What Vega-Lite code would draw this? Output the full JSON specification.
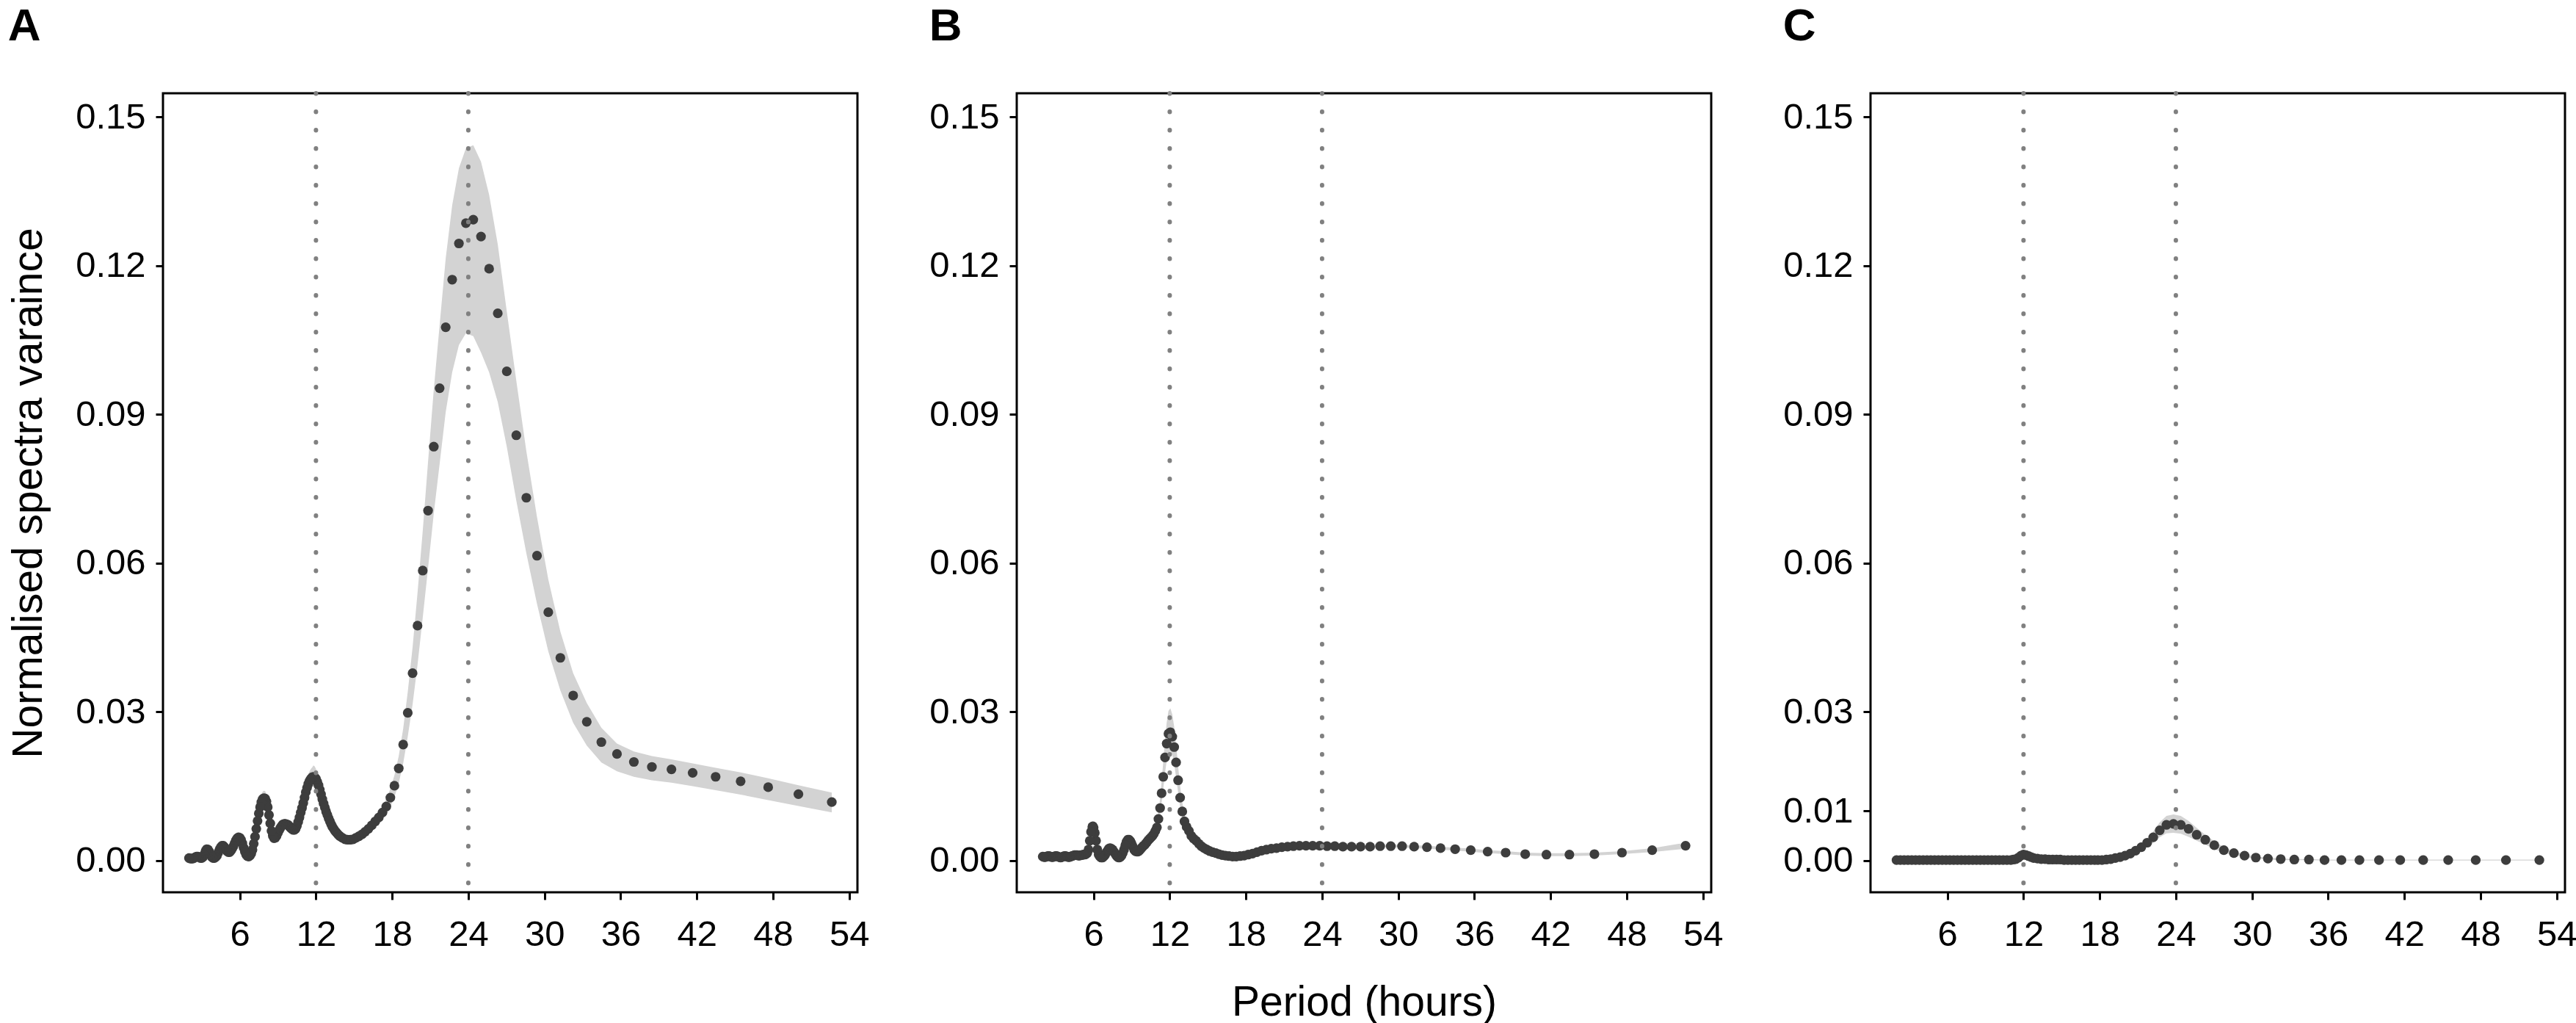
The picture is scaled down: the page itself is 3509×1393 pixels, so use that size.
{
  "$schema": "https://vega.github.io/schema/vega-lite/v6.json",
  "background": "white",
  "padding": {"left": 9, "top": 3, "right": 0, "bottom": 0},
  "bounds": "flush",
  "spacing": 217,
  "datasets": {
    "guides": [{"period": 12}, {"period": 24}],
    "spectra": [
      {"panel": "A", "period": 52.63, "value": 0.0118, "lower": 0.0097, "upper": 0.0137},
      {"panel": "A", "period": 50.00, "value": 0.0134, "lower": 0.0110, "upper": 0.0152},
      {"panel": "A", "period": 47.62, "value": 0.0148, "lower": 0.0122, "upper": 0.0166},
      {"panel": "A", "period": 45.45, "value": 0.0160, "lower": 0.0133, "upper": 0.0178},
      {"panel": "A", "period": 43.48, "value": 0.0169, "lower": 0.0142, "upper": 0.0187},
      {"panel": "A", "period": 41.67, "value": 0.0177, "lower": 0.0150, "upper": 0.0196},
      {"panel": "A", "period": 40.00, "value": 0.0184, "lower": 0.0157, "upper": 0.0204},
      {"panel": "A", "period": 38.46, "value": 0.0189, "lower": 0.0162, "upper": 0.0211},
      {"panel": "A", "period": 37.04, "value": 0.0199, "lower": 0.0169, "upper": 0.0220},
      {"panel": "A", "period": 35.71, "value": 0.0215, "lower": 0.0180, "upper": 0.0236},
      {"panel": "A", "period": 34.48, "value": 0.0239, "lower": 0.0198, "upper": 0.0268},
      {"panel": "A", "period": 33.33, "value": 0.0280, "lower": 0.0232, "upper": 0.0318},
      {"panel": "A", "period": 32.26, "value": 0.0333, "lower": 0.0278, "upper": 0.0378},
      {"panel": "A", "period": 31.25, "value": 0.0409, "lower": 0.0343, "upper": 0.0462},
      {"panel": "A", "period": 30.30, "value": 0.0501, "lower": 0.0422, "upper": 0.0567},
      {"panel": "A", "period": 29.41, "value": 0.0615, "lower": 0.0518, "upper": 0.0693},
      {"panel": "A", "period": 28.57, "value": 0.0732, "lower": 0.0620, "upper": 0.0826},
      {"panel": "A", "period": 27.78, "value": 0.0858, "lower": 0.0726, "upper": 0.0968},
      {"panel": "A", "period": 27.03, "value": 0.0987, "lower": 0.0835, "upper": 0.1108},
      {"panel": "A", "period": 26.32, "value": 0.1104, "lower": 0.0925, "upper": 0.1243},
      {"panel": "A", "period": 25.64, "value": 0.1194, "lower": 0.0985, "upper": 0.1343},
      {"panel": "A", "period": 25.00, "value": 0.1259, "lower": 0.1025, "upper": 0.1410},
      {"panel": "A", "period": 24.39, "value": 0.1293, "lower": 0.1058, "upper": 0.1443},
      {"panel": "A", "period": 23.81, "value": 0.1286, "lower": 0.1064, "upper": 0.1437},
      {"panel": "A", "period": 23.26, "value": 0.1245, "lower": 0.1040, "upper": 0.1397},
      {"panel": "A", "period": 22.73, "value": 0.1172, "lower": 0.0985, "upper": 0.1322},
      {"panel": "A", "period": 22.22, "value": 0.1076, "lower": 0.0905, "upper": 0.1215},
      {"panel": "A", "period": 21.74, "value": 0.0953, "lower": 0.0800, "upper": 0.1080},
      {"panel": "A", "period": 21.28, "value": 0.0835, "lower": 0.0700, "upper": 0.0950},
      {"panel": "A", "period": 20.83, "value": 0.0706, "lower": 0.0590, "upper": 0.0805},
      {"panel": "A", "period": 20.41, "value": 0.0585, "lower": 0.0490, "upper": 0.0665},
      {"panel": "A", "period": 20.00, "value": 0.0474, "lower": 0.0395, "upper": 0.0540},
      {"panel": "A", "period": 19.61, "value": 0.0378, "lower": 0.0315, "upper": 0.0430},
      {"panel": "A", "period": 19.23, "value": 0.0298, "lower": 0.0250, "upper": 0.0340},
      {"panel": "A", "period": 18.87, "value": 0.0234, "lower": 0.0196, "upper": 0.0266},
      {"panel": "A", "period": 18.52, "value": 0.0186, "lower": 0.0156, "upper": 0.0211},
      {"panel": "A", "period": 18.18, "value": 0.0151, "lower": 0.0128, "upper": 0.0172},
      {"panel": "A", "period": 17.86, "value": 0.0127, "lower": 0.0108, "upper": 0.0145},
      {"panel": "A", "period": 17.54, "value": 0.0109, "lower": 0.0093, "upper": 0.0124},
      {"panel": "A", "period": 17.24, "value": 0.0097, "lower": 0.0083, "upper": 0.0110},
      {"panel": "A", "period": 16.95, "value": 0.0087, "lower": 0.0075, "upper": 0.0099},
      {"panel": "A", "period": 16.67, "value": 0.0079, "lower": 0.0068, "upper": 0.0090},
      {"panel": "A", "period": 16.39, "value": 0.0071, "lower": 0.0061, "upper": 0.0081},
      {"panel": "A", "period": 16.13, "value": 0.0064, "lower": 0.0055, "upper": 0.0073},
      {"panel": "A", "period": 15.87, "value": 0.0058, "lower": 0.0050, "upper": 0.0066},
      {"panel": "A", "period": 15.63, "value": 0.0053, "lower": 0.0045, "upper": 0.0061},
      {"panel": "A", "period": 15.38, "value": 0.0049, "lower": 0.0042, "upper": 0.0056},
      {"panel": "A", "period": 15.15, "value": 0.0046, "lower": 0.0039, "upper": 0.0053},
      {"panel": "A", "period": 14.93, "value": 0.0043, "lower": 0.0037, "upper": 0.0049},
      {"panel": "A", "period": 14.71, "value": 0.0042, "lower": 0.0036, "upper": 0.0048},
      {"panel": "A", "period": 14.49, "value": 0.0042, "lower": 0.0036, "upper": 0.0048},
      {"panel": "A", "period": 14.29, "value": 0.0043, "lower": 0.0037, "upper": 0.0049},
      {"panel": "A", "period": 14.08, "value": 0.0046, "lower": 0.0039, "upper": 0.0053},
      {"panel": "A", "period": 13.9, "value": 0.0049, "lower": 0.0043, "upper": 0.0055},
      {"panel": "A", "period": 13.8, "value": 0.0051, "lower": 0.0045, "upper": 0.0057},
      {"panel": "A", "period": 13.7, "value": 0.0054, "lower": 0.0048, "upper": 0.0060},
      {"panel": "A", "period": 13.6, "value": 0.0057, "lower": 0.0050, "upper": 0.0064},
      {"panel": "A", "period": 13.5, "value": 0.0060, "lower": 0.0053, "upper": 0.0067},
      {"panel": "A", "period": 13.4, "value": 0.0064, "lower": 0.0056, "upper": 0.0072},
      {"panel": "A", "period": 13.3, "value": 0.0068, "lower": 0.0060, "upper": 0.0076},
      {"panel": "A", "period": 13.2, "value": 0.0073, "lower": 0.0064, "upper": 0.0082},
      {"panel": "A", "period": 13.1, "value": 0.0079, "lower": 0.0070, "upper": 0.0088},
      {"panel": "A", "period": 13.0, "value": 0.0085, "lower": 0.0075, "upper": 0.0095},
      {"panel": "A", "period": 12.9, "value": 0.0092, "lower": 0.0081, "upper": 0.0103},
      {"panel": "A", "period": 12.8, "value": 0.0099, "lower": 0.0087, "upper": 0.0111},
      {"panel": "A", "period": 12.7, "value": 0.0107, "lower": 0.0094, "upper": 0.0120},
      {"panel": "A", "period": 12.6, "value": 0.0115, "lower": 0.0101, "upper": 0.0129},
      {"panel": "A", "period": 12.5, "value": 0.0124, "lower": 0.0109, "upper": 0.0139},
      {"panel": "A", "period": 12.4, "value": 0.0134, "lower": 0.0118, "upper": 0.0150},
      {"panel": "A", "period": 12.3, "value": 0.0143, "lower": 0.0126, "upper": 0.0160},
      {"panel": "A", "period": 12.2, "value": 0.0152, "lower": 0.0134, "upper": 0.0170},
      {"panel": "A", "period": 12.1, "value": 0.0159, "lower": 0.0140, "upper": 0.0178},
      {"panel": "A", "period": 12.0, "value": 0.0165, "lower": 0.0145, "upper": 0.0185},
      {"panel": "A", "period": 11.9, "value": 0.0168, "lower": 0.0148, "upper": 0.0190},
      {"panel": "A", "period": 11.8, "value": 0.0169, "lower": 0.0149, "upper": 0.0192},
      {"panel": "A", "period": 11.7, "value": 0.0168, "lower": 0.0148, "upper": 0.0188},
      {"panel": "A", "period": 11.6, "value": 0.0165, "lower": 0.0145, "upper": 0.0185},
      {"panel": "A", "period": 11.5, "value": 0.0161, "lower": 0.0142, "upper": 0.0180},
      {"panel": "A", "period": 11.4, "value": 0.0155, "lower": 0.0136, "upper": 0.0174},
      {"panel": "A", "period": 11.3, "value": 0.0147, "lower": 0.0129, "upper": 0.0165},
      {"panel": "A", "period": 11.2, "value": 0.0138, "lower": 0.0121, "upper": 0.0155},
      {"panel": "A", "period": 11.1, "value": 0.0127, "lower": 0.0112, "upper": 0.0142},
      {"panel": "A", "period": 11.0, "value": 0.0116, "lower": 0.0102, "upper": 0.0130},
      {"panel": "A", "period": 10.9, "value": 0.0106, "lower": 0.0093, "upper": 0.0119},
      {"panel": "A", "period": 10.8, "value": 0.0097, "lower": 0.0085, "upper": 0.0109},
      {"panel": "A", "period": 10.7, "value": 0.0087, "lower": 0.0077, "upper": 0.0097},
      {"panel": "A", "period": 10.6, "value": 0.0078, "lower": 0.0069, "upper": 0.0087},
      {"panel": "A", "period": 10.5, "value": 0.0070, "lower": 0.0062, "upper": 0.0078},
      {"panel": "A", "period": 10.4, "value": 0.0064, "lower": 0.0056, "upper": 0.0072},
      {"panel": "A", "period": 10.3, "value": 0.0062, "lower": 0.0055, "upper": 0.0069},
      {"panel": "A", "period": 10.2, "value": 0.0062, "lower": 0.0055, "upper": 0.0069},
      {"panel": "A", "period": 10.1, "value": 0.0064, "lower": 0.0056, "upper": 0.0072},
      {"panel": "A", "period": 10.0, "value": 0.0066, "lower": 0.0058, "upper": 0.0074},
      {"panel": "A", "period": 9.9, "value": 0.0069, "lower": 0.0061, "upper": 0.0077},
      {"panel": "A", "period": 9.8, "value": 0.0072, "lower": 0.0063, "upper": 0.0081},
      {"panel": "A", "period": 9.7, "value": 0.0073, "lower": 0.0064, "upper": 0.0082},
      {"panel": "A", "period": 9.6, "value": 0.0074, "lower": 0.0065, "upper": 0.0083},
      {"panel": "A", "period": 9.5, "value": 0.0074, "lower": 0.0065, "upper": 0.0083},
      {"panel": "A", "period": 9.4, "value": 0.0073, "lower": 0.0064, "upper": 0.0082},
      {"panel": "A", "period": 9.3, "value": 0.0070, "lower": 0.0062, "upper": 0.0078},
      {"panel": "A", "period": 9.2, "value": 0.0066, "lower": 0.0058, "upper": 0.0074},
      {"panel": "A", "period": 9.1, "value": 0.0061, "lower": 0.0054, "upper": 0.0068},
      {"panel": "A", "period": 9.0, "value": 0.0056, "lower": 0.0049, "upper": 0.0063},
      {"panel": "A", "period": 8.9, "value": 0.0050, "lower": 0.0044, "upper": 0.0056},
      {"panel": "A", "period": 8.8, "value": 0.0046, "lower": 0.0040, "upper": 0.0052},
      {"panel": "A", "period": 8.7, "value": 0.0045, "lower": 0.0040, "upper": 0.0050},
      {"panel": "A", "period": 8.6, "value": 0.0050, "lower": 0.0044, "upper": 0.0056},
      {"panel": "A", "period": 8.5, "value": 0.0060, "lower": 0.0053, "upper": 0.0067},
      {"panel": "A", "period": 8.4, "value": 0.0075, "lower": 0.0066, "upper": 0.0084},
      {"panel": "A", "period": 8.3, "value": 0.0092, "lower": 0.0081, "upper": 0.0103},
      {"panel": "A", "period": 8.2, "value": 0.0108, "lower": 0.0095, "upper": 0.0121},
      {"panel": "A", "period": 8.1, "value": 0.0119, "lower": 0.0105, "upper": 0.0133},
      {"panel": "A", "period": 8.0, "value": 0.0125, "lower": 0.0110, "upper": 0.0140},
      {"panel": "A", "period": 7.9, "value": 0.0126, "lower": 0.0111, "upper": 0.0141},
      {"panel": "A", "period": 7.8, "value": 0.0124, "lower": 0.0109, "upper": 0.0139},
      {"panel": "A", "period": 7.7, "value": 0.0118, "lower": 0.0104, "upper": 0.0132},
      {"panel": "A", "period": 7.6, "value": 0.0108, "lower": 0.0095, "upper": 0.0121},
      {"panel": "A", "period": 7.5, "value": 0.0095, "lower": 0.0084, "upper": 0.0106},
      {"panel": "A", "period": 7.4, "value": 0.0080, "lower": 0.0070, "upper": 0.0090},
      {"panel": "A", "period": 7.3, "value": 0.0064, "lower": 0.0056, "upper": 0.0072},
      {"panel": "A", "period": 7.2, "value": 0.0048, "lower": 0.0042, "upper": 0.0054},
      {"panel": "A", "period": 7.1, "value": 0.0034, "lower": 0.0030, "upper": 0.0038},
      {"panel": "A", "period": 7.0, "value": 0.0022, "lower": 0.0019, "upper": 0.0025},
      {"panel": "A", "period": 6.9, "value": 0.0014, "lower": 0.0012, "upper": 0.0016},
      {"panel": "A", "period": 6.8, "value": 0.0010, "lower": 0.0009, "upper": 0.0011},
      {"panel": "A", "period": 6.7, "value": 0.0008, "lower": 0.0007, "upper": 0.0009},
      {"panel": "A", "period": 6.6, "value": 0.0009, "lower": 0.0008, "upper": 0.0010},
      {"panel": "A", "period": 6.5, "value": 0.0012, "lower": 0.0011, "upper": 0.0013},
      {"panel": "A", "period": 6.4, "value": 0.0018, "lower": 0.0016, "upper": 0.0020},
      {"panel": "A", "period": 6.3, "value": 0.0026, "lower": 0.0023, "upper": 0.0029},
      {"panel": "A", "period": 6.2, "value": 0.0035, "lower": 0.0031, "upper": 0.0039},
      {"panel": "A", "period": 6.1, "value": 0.0042, "lower": 0.0037, "upper": 0.0047},
      {"panel": "A", "period": 6.0, "value": 0.0046, "lower": 0.0040, "upper": 0.0052},
      {"panel": "A", "period": 5.9, "value": 0.0047, "lower": 0.0041, "upper": 0.0053},
      {"panel": "A", "period": 5.8, "value": 0.0045, "lower": 0.0040, "upper": 0.0050},
      {"panel": "A", "period": 5.7, "value": 0.0041, "lower": 0.0036, "upper": 0.0046},
      {"panel": "A", "period": 5.6, "value": 0.0035, "lower": 0.0031, "upper": 0.0039},
      {"panel": "A", "period": 5.5, "value": 0.0029, "lower": 0.0026, "upper": 0.0032},
      {"panel": "A", "period": 5.4, "value": 0.0024, "lower": 0.0021, "upper": 0.0027},
      {"panel": "A", "period": 5.3, "value": 0.0020, "lower": 0.0018, "upper": 0.0022},
      {"panel": "A", "period": 5.2, "value": 0.0017, "lower": 0.0015, "upper": 0.0019},
      {"panel": "A", "period": 5.1, "value": 0.0017, "lower": 0.0015, "upper": 0.0019},
      {"panel": "A", "period": 5.0, "value": 0.0019, "lower": 0.0017, "upper": 0.0021},
      {"panel": "A", "period": 4.9, "value": 0.0023, "lower": 0.0020, "upper": 0.0026},
      {"panel": "A", "period": 4.8, "value": 0.0027, "lower": 0.0024, "upper": 0.0030},
      {"panel": "A", "period": 4.7, "value": 0.0030, "lower": 0.0026, "upper": 0.0034},
      {"panel": "A", "period": 4.6, "value": 0.0030, "lower": 0.0026, "upper": 0.0034},
      {"panel": "A", "period": 4.5, "value": 0.0027, "lower": 0.0024, "upper": 0.0030},
      {"panel": "A", "period": 4.4, "value": 0.0022, "lower": 0.0019, "upper": 0.0025},
      {"panel": "A", "period": 4.3, "value": 0.0016, "lower": 0.0014, "upper": 0.0018},
      {"panel": "A", "period": 4.2, "value": 0.0010, "lower": 0.0009, "upper": 0.0011},
      {"panel": "A", "period": 4.1, "value": 0.0007, "lower": 0.0006, "upper": 0.0008},
      {"panel": "A", "period": 4.0, "value": 0.0005, "lower": 0.0004, "upper": 0.0006},
      {"panel": "A", "period": 3.9, "value": 0.0005, "lower": 0.0004, "upper": 0.0006},
      {"panel": "A", "period": 3.8, "value": 0.0007, "lower": 0.0006, "upper": 0.0008},
      {"panel": "A", "period": 3.7, "value": 0.0012, "lower": 0.0011, "upper": 0.0013},
      {"panel": "A", "period": 3.6, "value": 0.0018, "lower": 0.0016, "upper": 0.0020},
      {"panel": "A", "period": 3.5, "value": 0.0022, "lower": 0.0019, "upper": 0.0025},
      {"panel": "A", "period": 3.4, "value": 0.0023, "lower": 0.0020, "upper": 0.0026},
      {"panel": "A", "period": 3.3, "value": 0.0019, "lower": 0.0017, "upper": 0.0021},
      {"panel": "A", "period": 3.2, "value": 0.0012, "lower": 0.0011, "upper": 0.0013},
      {"panel": "A", "period": 3.1, "value": 0.0007, "lower": 0.0006, "upper": 0.0008},
      {"panel": "A", "period": 3.0, "value": 0.0005, "lower": 0.0004, "upper": 0.0006},
      {"panel": "A", "period": 2.9, "value": 0.0005, "lower": 0.0004, "upper": 0.0006},
      {"panel": "A", "period": 2.8, "value": 0.0007, "lower": 0.0006, "upper": 0.0008},
      {"panel": "A", "period": 2.7, "value": 0.0008, "lower": 0.0007, "upper": 0.0009},
      {"panel": "A", "period": 2.6, "value": 0.0008, "lower": 0.0007, "upper": 0.0009},
      {"panel": "A", "period": 2.5, "value": 0.0007, "lower": 0.0006, "upper": 0.0008},
      {"panel": "A", "period": 2.4, "value": 0.0005, "lower": 0.0004, "upper": 0.0006},
      {"panel": "A", "period": 2.3, "value": 0.0004, "lower": 0.0003, "upper": 0.0005},
      {"panel": "A", "period": 2.2, "value": 0.0004, "lower": 0.0003, "upper": 0.0005},
      {"panel": "A", "period": 2.1, "value": 0.0004, "lower": 0.0003, "upper": 0.0005},
      {"panel": "A", "period": 2.0, "value": 0.0005, "lower": 0.0004, "upper": 0.0006},

      {"panel": "B", "period": 52.63, "value": 0.0030, "lower": 0.0024, "upper": 0.0036},
      {"panel": "B", "period": 50.00, "value": 0.0021, "lower": 0.0017, "upper": 0.0025},
      {"panel": "B", "period": 47.62, "value": 0.0016, "lower": 0.0013, "upper": 0.0019},
      {"panel": "B", "period": 45.45, "value": 0.0013, "lower": 0.0010, "upper": 0.0016},
      {"panel": "B", "period": 43.48, "value": 0.0012, "lower": 0.0009, "upper": 0.0015},
      {"panel": "B", "period": 41.67, "value": 0.0012, "lower": 0.0009, "upper": 0.0015},
      {"panel": "B", "period": 40.00, "value": 0.0013, "lower": 0.0010, "upper": 0.0016},
      {"panel": "B", "period": 38.46, "value": 0.0016, "lower": 0.0013, "upper": 0.0019},
      {"panel": "B", "period": 37.04, "value": 0.0018, "lower": 0.0015, "upper": 0.0021},
      {"panel": "B", "period": 35.71, "value": 0.0021, "lower": 0.0018, "upper": 0.0024},
      {"panel": "B", "period": 34.48, "value": 0.0023, "lower": 0.0020, "upper": 0.0026},
      {"panel": "B", "period": 33.33, "value": 0.0025, "lower": 0.0022, "upper": 0.0028},
      {"panel": "B", "period": 32.26, "value": 0.0027, "lower": 0.0024, "upper": 0.0030},
      {"panel": "B", "period": 31.25, "value": 0.0028, "lower": 0.0025, "upper": 0.0031},
      {"panel": "B", "period": 30.30, "value": 0.0029, "lower": 0.0026, "upper": 0.0032},
      {"panel": "B", "period": 29.41, "value": 0.0029, "lower": 0.0026, "upper": 0.0032},
      {"panel": "B", "period": 28.57, "value": 0.0029, "lower": 0.0026, "upper": 0.0032},
      {"panel": "B", "period": 27.78, "value": 0.0028, "lower": 0.0025, "upper": 0.0031},
      {"panel": "B", "period": 27.03, "value": 0.0028, "lower": 0.0025, "upper": 0.0031},
      {"panel": "B", "period": 26.32, "value": 0.0028, "lower": 0.0025, "upper": 0.0031},
      {"panel": "B", "period": 25.64, "value": 0.0028, "lower": 0.0025, "upper": 0.0031},
      {"panel": "B", "period": 25.00, "value": 0.0029, "lower": 0.0026, "upper": 0.0032},
      {"panel": "B", "period": 24.39, "value": 0.0029, "lower": 0.0026, "upper": 0.0032},
      {"panel": "B", "period": 23.81, "value": 0.0030, "lower": 0.0027, "upper": 0.0033},
      {"panel": "B", "period": 23.26, "value": 0.0030, "lower": 0.0027, "upper": 0.0033},
      {"panel": "B", "period": 22.73, "value": 0.0030, "lower": 0.0027, "upper": 0.0033},
      {"panel": "B", "period": 22.22, "value": 0.0030, "lower": 0.0027, "upper": 0.0033},
      {"panel": "B", "period": 21.74, "value": 0.0029, "lower": 0.0026, "upper": 0.0032},
      {"panel": "B", "period": 21.28, "value": 0.0028, "lower": 0.0025, "upper": 0.0031},
      {"panel": "B", "period": 20.83, "value": 0.0027, "lower": 0.0024, "upper": 0.0030},
      {"panel": "B", "period": 20.41, "value": 0.0025, "lower": 0.0022, "upper": 0.0028},
      {"panel": "B", "period": 20.00, "value": 0.0024, "lower": 0.0021, "upper": 0.0027},
      {"panel": "B", "period": 19.61, "value": 0.0022, "lower": 0.0019, "upper": 0.0025},
      {"panel": "B", "period": 19.23, "value": 0.0020, "lower": 0.0017, "upper": 0.0023},
      {"panel": "B", "period": 18.87, "value": 0.0017, "lower": 0.0015, "upper": 0.0019},
      {"panel": "B", "period": 18.52, "value": 0.0014, "lower": 0.0012, "upper": 0.0016},
      {"panel": "B", "period": 18.18, "value": 0.0012, "lower": 0.0010, "upper": 0.0014},
      {"panel": "B", "period": 17.86, "value": 0.0010, "lower": 0.0008, "upper": 0.0012},
      {"panel": "B", "period": 17.54, "value": 0.0009, "lower": 0.0007, "upper": 0.0011},
      {"panel": "B", "period": 17.24, "value": 0.0008, "lower": 0.0006, "upper": 0.0010},
      {"panel": "B", "period": 16.95, "value": 0.0008, "lower": 0.0006, "upper": 0.0010},
      {"panel": "B", "period": 16.67, "value": 0.0009, "lower": 0.0007, "upper": 0.0011},
      {"panel": "B", "period": 16.39, "value": 0.0010, "lower": 0.0008, "upper": 0.0012},
      {"panel": "B", "period": 16.13, "value": 0.0011, "lower": 0.0009, "upper": 0.0013},
      {"panel": "B", "period": 15.87, "value": 0.0013, "lower": 0.0011, "upper": 0.0015},
      {"panel": "B", "period": 15.63, "value": 0.0015, "lower": 0.0013, "upper": 0.0017},
      {"panel": "B", "period": 15.38, "value": 0.0017, "lower": 0.0014, "upper": 0.0020},
      {"panel": "B", "period": 15.15, "value": 0.0019, "lower": 0.0016, "upper": 0.0022},
      {"panel": "B", "period": 14.93, "value": 0.0022, "lower": 0.0019, "upper": 0.0025},
      {"panel": "B", "period": 14.71, "value": 0.0025, "lower": 0.0021, "upper": 0.0029},
      {"panel": "B", "period": 14.49, "value": 0.0029, "lower": 0.0025, "upper": 0.0033},
      {"panel": "B", "period": 14.29, "value": 0.0034, "lower": 0.0029, "upper": 0.0039},
      {"panel": "B", "period": 14.08, "value": 0.0040, "lower": 0.0034, "upper": 0.0046},
      {"panel": "B", "period": 13.89, "value": 0.0044, "lower": 0.0037, "upper": 0.0051},
      {"panel": "B", "period": 13.70, "value": 0.0050, "lower": 0.0042, "upper": 0.0058},
      {"panel": "B", "period": 13.51, "value": 0.0060, "lower": 0.0051, "upper": 0.0070},
      {"panel": "B", "period": 13.33, "value": 0.0068, "lower": 0.0058, "upper": 0.0080},
      {"panel": "B", "period": 13.16, "value": 0.0079, "lower": 0.0067, "upper": 0.0093},
      {"panel": "B", "period": 12.99, "value": 0.0099, "lower": 0.0084, "upper": 0.0117},
      {"panel": "B", "period": 12.82, "value": 0.0127, "lower": 0.0108, "upper": 0.0150},
      {"panel": "B", "period": 12.66, "value": 0.0162, "lower": 0.0138, "upper": 0.0191},
      {"panel": "B", "period": 12.50, "value": 0.0198, "lower": 0.0168, "upper": 0.0234},
      {"panel": "B", "period": 12.35, "value": 0.0229, "lower": 0.0195, "upper": 0.0270},
      {"panel": "B", "period": 12.20, "value": 0.0250, "lower": 0.0213, "upper": 0.0295},
      {"panel": "B", "period": 12.05, "value": 0.0259, "lower": 0.0220, "upper": 0.0307},
      {"panel": "B", "period": 11.90, "value": 0.0256, "lower": 0.0218, "upper": 0.0302},
      {"panel": "B", "period": 11.76, "value": 0.0236, "lower": 0.0201, "upper": 0.0278},
      {"panel": "B", "period": 11.63, "value": 0.0208, "lower": 0.0177, "upper": 0.0245},
      {"panel": "B", "period": 11.49, "value": 0.0169, "lower": 0.0144, "upper": 0.0199},
      {"panel": "B", "period": 11.36, "value": 0.0136, "lower": 0.0116, "upper": 0.0160},
      {"panel": "B", "period": 11.24, "value": 0.0106, "lower": 0.0090, "upper": 0.0125},
      {"panel": "B", "period": 11.11, "value": 0.0084, "lower": 0.0071, "upper": 0.0099},
      {"panel": "B", "period": 10.99, "value": 0.0067, "lower": 0.0057, "upper": 0.0079},
      {"panel": "B", "period": 10.87, "value": 0.0060, "lower": 0.0051, "upper": 0.0069},
      {"panel": "B", "period": 10.75, "value": 0.0054, "lower": 0.0046, "upper": 0.0062},
      {"panel": "B", "period": 10.64, "value": 0.0050, "lower": 0.0043, "upper": 0.0057},
      {"panel": "B", "period": 10.53, "value": 0.0047, "lower": 0.0040, "upper": 0.0054},
      {"panel": "B", "period": 10.42, "value": 0.0044, "lower": 0.0037, "upper": 0.0051},
      {"panel": "B", "period": 10.31, "value": 0.0041, "lower": 0.0035, "upper": 0.0047},
      {"panel": "B", "period": 10.20, "value": 0.0037, "lower": 0.0031, "upper": 0.0043},
      {"panel": "B", "period": 10.10, "value": 0.0034, "lower": 0.0029, "upper": 0.0039},
      {"panel": "B", "period": 10.00, "value": 0.0031, "lower": 0.0026, "upper": 0.0036},
      {"panel": "B", "period": 9.9, "value": 0.0029, "lower": 0.0025, "upper": 0.0033},
      {"panel": "B", "period": 9.8, "value": 0.0026, "lower": 0.0022, "upper": 0.0030},
      {"panel": "B", "period": 9.7, "value": 0.0023, "lower": 0.0020, "upper": 0.0026},
      {"panel": "B", "period": 9.6, "value": 0.0020, "lower": 0.0017, "upper": 0.0023},
      {"panel": "B", "period": 9.5, "value": 0.0018, "lower": 0.0015, "upper": 0.0021},
      {"panel": "B", "period": 9.4, "value": 0.0018, "lower": 0.0015, "upper": 0.0021},
      {"panel": "B", "period": 9.3, "value": 0.0019, "lower": 0.0016, "upper": 0.0022},
      {"panel": "B", "period": 9.2, "value": 0.0022, "lower": 0.0019, "upper": 0.0025},
      {"panel": "B", "period": 9.1, "value": 0.0028, "lower": 0.0024, "upper": 0.0032},
      {"panel": "B", "period": 9.0, "value": 0.0034, "lower": 0.0029, "upper": 0.0039},
      {"panel": "B", "period": 8.9, "value": 0.0039, "lower": 0.0033, "upper": 0.0045},
      {"panel": "B", "period": 8.8, "value": 0.0042, "lower": 0.0036, "upper": 0.0048},
      {"panel": "B", "period": 8.7, "value": 0.0042, "lower": 0.0036, "upper": 0.0048},
      {"panel": "B", "period": 8.6, "value": 0.0038, "lower": 0.0032, "upper": 0.0044},
      {"panel": "B", "period": 8.5, "value": 0.0031, "lower": 0.0026, "upper": 0.0036},
      {"panel": "B", "period": 8.4, "value": 0.0022, "lower": 0.0019, "upper": 0.0025},
      {"panel": "B", "period": 8.3, "value": 0.0015, "lower": 0.0013, "upper": 0.0017},
      {"panel": "B", "period": 8.2, "value": 0.0010, "lower": 0.0008, "upper": 0.0012},
      {"panel": "B", "period": 8.1, "value": 0.0007, "lower": 0.0006, "upper": 0.0008},
      {"panel": "B", "period": 8.0, "value": 0.0006, "lower": 0.0005, "upper": 0.0007},
      {"panel": "B", "period": 7.9, "value": 0.0007, "lower": 0.0006, "upper": 0.0008},
      {"panel": "B", "period": 7.8, "value": 0.0010, "lower": 0.0008, "upper": 0.0012},
      {"panel": "B", "period": 7.7, "value": 0.0014, "lower": 0.0012, "upper": 0.0016},
      {"panel": "B", "period": 7.6, "value": 0.0018, "lower": 0.0015, "upper": 0.0021},
      {"panel": "B", "period": 7.5, "value": 0.0022, "lower": 0.0019, "upper": 0.0025},
      {"panel": "B", "period": 7.4, "value": 0.0024, "lower": 0.0020, "upper": 0.0028},
      {"panel": "B", "period": 7.3, "value": 0.0025, "lower": 0.0021, "upper": 0.0029},
      {"panel": "B", "period": 7.2, "value": 0.0024, "lower": 0.0020, "upper": 0.0028},
      {"panel": "B", "period": 7.1, "value": 0.0020, "lower": 0.0017, "upper": 0.0023},
      {"panel": "B", "period": 7.0, "value": 0.0016, "lower": 0.0014, "upper": 0.0018},
      {"panel": "B", "period": 6.9, "value": 0.0011, "lower": 0.0009, "upper": 0.0013},
      {"panel": "B", "period": 6.8, "value": 0.0008, "lower": 0.0007, "upper": 0.0009},
      {"panel": "B", "period": 6.7, "value": 0.0006, "lower": 0.0005, "upper": 0.0007},
      {"panel": "B", "period": 6.6, "value": 0.0006, "lower": 0.0005, "upper": 0.0007},
      {"panel": "B", "period": 6.5, "value": 0.0008, "lower": 0.0007, "upper": 0.0009},
      {"panel": "B", "period": 6.4, "value": 0.0012, "lower": 0.0010, "upper": 0.0014},
      {"panel": "B", "period": 6.3, "value": 0.0022, "lower": 0.0019, "upper": 0.0025},
      {"panel": "B", "period": 6.2, "value": 0.0040, "lower": 0.0034, "upper": 0.0046},
      {"panel": "B", "period": 6.1, "value": 0.0056, "lower": 0.0048, "upper": 0.0064},
      {"panel": "B", "period": 6.0, "value": 0.0066, "lower": 0.0056, "upper": 0.0076},
      {"panel": "B", "period": 5.95, "value": 0.0069, "lower": 0.0059, "upper": 0.0079},
      {"panel": "B", "period": 5.9, "value": 0.0068, "lower": 0.0058, "upper": 0.0078},
      {"panel": "B", "period": 5.8, "value": 0.0058, "lower": 0.0049, "upper": 0.0067},
      {"panel": "B", "period": 5.7, "value": 0.0040, "lower": 0.0034, "upper": 0.0046},
      {"panel": "B", "period": 5.6, "value": 0.0022, "lower": 0.0019, "upper": 0.0025},
      {"panel": "B", "period": 5.5, "value": 0.0015, "lower": 0.0013, "upper": 0.0017},
      {"panel": "B", "period": 5.4, "value": 0.0013, "lower": 0.0011, "upper": 0.0015},
      {"panel": "B", "period": 5.3, "value": 0.0012, "lower": 0.0010, "upper": 0.0014},
      {"panel": "B", "period": 5.2, "value": 0.0012, "lower": 0.0010, "upper": 0.0014},
      {"panel": "B", "period": 5.1, "value": 0.0011, "lower": 0.0009, "upper": 0.0013},
      {"panel": "B", "period": 5.0, "value": 0.0011, "lower": 0.0009, "upper": 0.0013},
      {"panel": "B", "period": 4.9, "value": 0.0010, "lower": 0.0008, "upper": 0.0012},
      {"panel": "B", "period": 4.8, "value": 0.0010, "lower": 0.0008, "upper": 0.0012},
      {"panel": "B", "period": 4.7, "value": 0.0011, "lower": 0.0009, "upper": 0.0013},
      {"panel": "B", "period": 4.6, "value": 0.0011, "lower": 0.0009, "upper": 0.0013},
      {"panel": "B", "period": 4.5, "value": 0.0011, "lower": 0.0009, "upper": 0.0013},
      {"panel": "B", "period": 4.4, "value": 0.0010, "lower": 0.0008, "upper": 0.0012},
      {"panel": "B", "period": 4.3, "value": 0.0009, "lower": 0.0008, "upper": 0.0010},
      {"panel": "B", "period": 4.2, "value": 0.0008, "lower": 0.0007, "upper": 0.0009},
      {"panel": "B", "period": 4.1, "value": 0.0007, "lower": 0.0006, "upper": 0.0008},
      {"panel": "B", "period": 4.0, "value": 0.0007, "lower": 0.0006, "upper": 0.0008},
      {"panel": "B", "period": 3.9, "value": 0.0008, "lower": 0.0007, "upper": 0.0009},
      {"panel": "B", "period": 3.8, "value": 0.0009, "lower": 0.0008, "upper": 0.0010},
      {"panel": "B", "period": 3.7, "value": 0.0009, "lower": 0.0008, "upper": 0.0010},
      {"panel": "B", "period": 3.6, "value": 0.0008, "lower": 0.0007, "upper": 0.0009},
      {"panel": "B", "period": 3.5, "value": 0.0007, "lower": 0.0006, "upper": 0.0008},
      {"panel": "B", "period": 3.4, "value": 0.0006, "lower": 0.0005, "upper": 0.0007},
      {"panel": "B", "period": 3.3, "value": 0.0007, "lower": 0.0006, "upper": 0.0008},
      {"panel": "B", "period": 3.2, "value": 0.0008, "lower": 0.0007, "upper": 0.0009},
      {"panel": "B", "period": 3.1, "value": 0.0009, "lower": 0.0008, "upper": 0.0010},
      {"panel": "B", "period": 3.0, "value": 0.0009, "lower": 0.0008, "upper": 0.0010},
      {"panel": "B", "period": 2.9, "value": 0.0008, "lower": 0.0007, "upper": 0.0009},
      {"panel": "B", "period": 2.8, "value": 0.0007, "lower": 0.0006, "upper": 0.0008},
      {"panel": "B", "period": 2.7, "value": 0.0007, "lower": 0.0006, "upper": 0.0008},
      {"panel": "B", "period": 2.6, "value": 0.0008, "lower": 0.0007, "upper": 0.0009},
      {"panel": "B", "period": 2.5, "value": 0.0009, "lower": 0.0008, "upper": 0.0010},
      {"panel": "B", "period": 2.4, "value": 0.0009, "lower": 0.0008, "upper": 0.0010},
      {"panel": "B", "period": 2.3, "value": 0.0008, "lower": 0.0007, "upper": 0.0009},
      {"panel": "B", "period": 2.2, "value": 0.0007, "lower": 0.0006, "upper": 0.0008},
      {"panel": "B", "period": 2.1, "value": 0.0007, "lower": 0.0006, "upper": 0.0008},
      {"panel": "B", "period": 2.0, "value": 0.0008, "lower": 0.0007, "upper": 0.0009},

      {"panel": "C", "period": 52.63, "value": 0.0001, "lower": 0.0000, "upper": 0.0002},
      {"panel": "C", "period": 50.00, "value": 0.0001, "lower": 0.0000, "upper": 0.0002},
      {"panel": "C", "period": 47.62, "value": 0.0001, "lower": 0.0000, "upper": 0.0002},
      {"panel": "C", "period": 45.45, "value": 0.0001, "lower": 0.0000, "upper": 0.0002},
      {"panel": "C", "period": 43.48, "value": 0.0001, "lower": 0.0000, "upper": 0.0002},
      {"panel": "C", "period": 41.67, "value": 0.0001, "lower": 0.0000, "upper": 0.0002},
      {"panel": "C", "period": 40.00, "value": 0.0001, "lower": 0.0000, "upper": 0.0002},
      {"panel": "C", "period": 38.46, "value": 0.0001, "lower": 0.0000, "upper": 0.0002},
      {"panel": "C", "period": 37.04, "value": 0.0001, "lower": 0.0000, "upper": 0.0002},
      {"panel": "C", "period": 35.71, "value": 0.0001, "lower": 0.0000, "upper": 0.0002},
      {"panel": "C", "period": 34.48, "value": 0.0002, "lower": 0.0001, "upper": 0.0003},
      {"panel": "C", "period": 33.33, "value": 0.0002, "lower": 0.0001, "upper": 0.0003},
      {"panel": "C", "period": 32.26, "value": 0.0003, "lower": 0.0001, "upper": 0.0004},
      {"panel": "C", "period": 31.25, "value": 0.0004, "lower": 0.0002, "upper": 0.0006},
      {"panel": "C", "period": 30.30, "value": 0.0006, "lower": 0.0004, "upper": 0.0008},
      {"panel": "C", "period": 29.41, "value": 0.0010, "lower": 0.0007, "upper": 0.0013},
      {"panel": "C", "period": 28.57, "value": 0.0015, "lower": 0.0011, "upper": 0.0019},
      {"panel": "C", "period": 27.78, "value": 0.0021, "lower": 0.0016, "upper": 0.0027},
      {"panel": "C", "period": 27.03, "value": 0.0031, "lower": 0.0023, "upper": 0.0039},
      {"panel": "C", "period": 26.32, "value": 0.0042, "lower": 0.0032, "upper": 0.0052},
      {"panel": "C", "period": 25.64, "value": 0.0052, "lower": 0.0040, "upper": 0.0066},
      {"panel": "C", "period": 25.00, "value": 0.0064, "lower": 0.0048, "upper": 0.0080},
      {"panel": "C", "period": 24.39, "value": 0.0072, "lower": 0.0054, "upper": 0.0090},
      {"panel": "C", "period": 23.81, "value": 0.0074, "lower": 0.0056, "upper": 0.0093},
      {"panel": "C", "period": 23.26, "value": 0.0072, "lower": 0.0055, "upper": 0.0090},
      {"panel": "C", "period": 22.73, "value": 0.0061, "lower": 0.0047, "upper": 0.0077},
      {"panel": "C", "period": 22.22, "value": 0.0047, "lower": 0.0036, "upper": 0.0059},
      {"panel": "C", "period": 21.74, "value": 0.0036, "lower": 0.0028, "upper": 0.0045},
      {"panel": "C", "period": 21.28, "value": 0.0027, "lower": 0.0021, "upper": 0.0034},
      {"panel": "C", "period": 20.83, "value": 0.0020, "lower": 0.0015, "upper": 0.0025},
      {"panel": "C", "period": 20.41, "value": 0.0014, "lower": 0.0010, "upper": 0.0018},
      {"panel": "C", "period": 20.00, "value": 0.0010, "lower": 0.0007, "upper": 0.0013},
      {"panel": "C", "period": 19.61, "value": 0.0007, "lower": 0.0005, "upper": 0.0009},
      {"panel": "C", "period": 19.23, "value": 0.0005, "lower": 0.0003, "upper": 0.0007},
      {"panel": "C", "period": 18.87, "value": 0.0003, "lower": 0.0001, "upper": 0.0005},
      {"panel": "C", "period": 18.52, "value": 0.0002, "lower": 0.0000, "upper": 0.0004},
      {"panel": "C", "period": 18.18, "value": 0.0001, "lower": 0.0000, "upper": 0.0003},
      {"panel": "C", "period": 17.86, "value": 0.0001, "lower": 0.0000, "upper": 0.0002},
      {"panel": "C", "period": 17.6, "value": 0.0001, "lower": 0.0000, "upper": 0.0002},
      {"panel": "C", "period": 17.3, "value": 0.0001, "lower": 0.0000, "upper": 0.0002},
      {"panel": "C", "period": 17.0, "value": 0.0001, "lower": 0.0000, "upper": 0.0002},
      {"panel": "C", "period": 16.7, "value": 0.0001, "lower": 0.0000, "upper": 0.0002},
      {"panel": "C", "period": 16.4, "value": 0.0001, "lower": 0.0000, "upper": 0.0002},
      {"panel": "C", "period": 16.1, "value": 0.0001, "lower": 0.0000, "upper": 0.0002},
      {"panel": "C", "period": 15.8, "value": 0.0001, "lower": 0.0000, "upper": 0.0002},
      {"panel": "C", "period": 15.5, "value": 0.0001, "lower": 0.0000, "upper": 0.0002},
      {"panel": "C", "period": 15.2, "value": 0.0001, "lower": 0.0000, "upper": 0.0002},
      {"panel": "C", "period": 14.9, "value": 0.0002, "lower": 0.0001, "upper": 0.0003},
      {"panel": "C", "period": 14.6, "value": 0.0002, "lower": 0.0001, "upper": 0.0003},
      {"panel": "C", "period": 14.3, "value": 0.0002, "lower": 0.0001, "upper": 0.0003},
      {"panel": "C", "period": 14.0, "value": 0.0002, "lower": 0.0001, "upper": 0.0003},
      {"panel": "C", "period": 13.7, "value": 0.0003, "lower": 0.0002, "upper": 0.0004},
      {"panel": "C", "period": 13.4, "value": 0.0003, "lower": 0.0002, "upper": 0.0004},
      {"panel": "C", "period": 13.1, "value": 0.0004, "lower": 0.0003, "upper": 0.0005},
      {"panel": "C", "period": 12.8, "value": 0.0005, "lower": 0.0004, "upper": 0.0006},
      {"panel": "C", "period": 12.6, "value": 0.0007, "lower": 0.0005, "upper": 0.0009},
      {"panel": "C", "period": 12.4, "value": 0.0009, "lower": 0.0007, "upper": 0.0011},
      {"panel": "C", "period": 12.2, "value": 0.0011, "lower": 0.0009, "upper": 0.0013},
      {"panel": "C", "period": 12.0, "value": 0.0012, "lower": 0.0010, "upper": 0.0014},
      {"panel": "C", "period": 11.8, "value": 0.0010, "lower": 0.0008, "upper": 0.0012},
      {"panel": "C", "period": 11.6, "value": 0.0006, "lower": 0.0005, "upper": 0.0007},
      {"panel": "C", "period": 11.4, "value": 0.0003, "lower": 0.0002, "upper": 0.0004},
      {"panel": "C", "period": 11.2, "value": 0.0002, "lower": 0.0001, "upper": 0.0003},
      {"panel": "C", "period": 11.0, "value": 0.0001, "lower": 0.0000, "upper": 0.0002},
      {"panel": "C", "period": 10.7, "value": 0.0001, "lower": 0.0000, "upper": 0.0002},
      {"panel": "C", "period": 10.4, "value": 0.0001, "lower": 0.0000, "upper": 0.0002},
      {"panel": "C", "period": 10.1, "value": 0.0001, "lower": 0.0000, "upper": 0.0002},
      {"panel": "C", "period": 9.8, "value": 0.0001, "lower": 0.0000, "upper": 0.0002},
      {"panel": "C", "period": 9.5, "value": 0.0001, "lower": 0.0000, "upper": 0.0002},
      {"panel": "C", "period": 9.2, "value": 0.0001, "lower": 0.0000, "upper": 0.0002},
      {"panel": "C", "period": 8.9, "value": 0.0001, "lower": 0.0000, "upper": 0.0002},
      {"panel": "C", "period": 8.6, "value": 0.0001, "lower": 0.0000, "upper": 0.0002},
      {"panel": "C", "period": 8.3, "value": 0.0001, "lower": 0.0000, "upper": 0.0002},
      {"panel": "C", "period": 8.0, "value": 0.0001, "lower": 0.0000, "upper": 0.0002},
      {"panel": "C", "period": 7.7, "value": 0.0001, "lower": 0.0000, "upper": 0.0002},
      {"panel": "C", "period": 7.4, "value": 0.0001, "lower": 0.0000, "upper": 0.0002},
      {"panel": "C", "period": 7.1, "value": 0.0001, "lower": 0.0000, "upper": 0.0002},
      {"panel": "C", "period": 6.8, "value": 0.0001, "lower": 0.0000, "upper": 0.0002},
      {"panel": "C", "period": 6.5, "value": 0.0001, "lower": 0.0000, "upper": 0.0002},
      {"panel": "C", "period": 6.2, "value": 0.0001, "lower": 0.0000, "upper": 0.0002},
      {"panel": "C", "period": 5.9, "value": 0.0001, "lower": 0.0000, "upper": 0.0002},
      {"panel": "C", "period": 5.6, "value": 0.0001, "lower": 0.0000, "upper": 0.0002},
      {"panel": "C", "period": 5.3, "value": 0.0001, "lower": 0.0000, "upper": 0.0002},
      {"panel": "C", "period": 5.0, "value": 0.0001, "lower": 0.0000, "upper": 0.0002},
      {"panel": "C", "period": 4.7, "value": 0.0001, "lower": 0.0000, "upper": 0.0002},
      {"panel": "C", "period": 4.4, "value": 0.0001, "lower": 0.0000, "upper": 0.0002},
      {"panel": "C", "period": 4.1, "value": 0.0001, "lower": 0.0000, "upper": 0.0002},
      {"panel": "C", "period": 3.8, "value": 0.0001, "lower": 0.0000, "upper": 0.0002},
      {"panel": "C", "period": 3.5, "value": 0.0001, "lower": 0.0000, "upper": 0.0002},
      {"panel": "C", "period": 3.2, "value": 0.0001, "lower": 0.0000, "upper": 0.0002},
      {"panel": "C", "period": 2.9, "value": 0.0001, "lower": 0.0000, "upper": 0.0002},
      {"panel": "C", "period": 2.6, "value": 0.0001, "lower": 0.0000, "upper": 0.0002},
      {"panel": "C", "period": 2.3, "value": 0.0001, "lower": 0.0000, "upper": 0.0002},
      {"panel": "C", "period": 2.0, "value": 0.0001, "lower": 0.0000, "upper": 0.0002}
    ]
  },
  "hconcat": [
    {
      "width": 946,
      "height": 1088,
      "title": {"text": "A"},
      "layer": [
        {
          "data": {"name": "spectra"},
          "transform": [{"filter": "datum.panel === 'A'"}],
          "mark": {"type": "area", "color": "#d3d3d3", "opacity": 1},
          "encoding": {
            "x": {"field": "period", "type": "quantitative", "scale": {"domain": [-0.05, 54.65], "nice": false, "zero": false},
                  "axis": {"values": [6, 12, 18, 24, 30, 36, 42, 48, 54], "format": "d", "title": null}},
            "y": {"field": "lower", "type": "quantitative", "scale": {"domain": [-0.0064, 0.1548], "nice": false, "zero": false},
                  "axis": {"values": [0, 0.03, 0.06, 0.09, 0.12, 0.15], "format": ".2f", "title": "Normalised spectra varaince"}},
            "y2": {"field": "upper"}
          }
        },
        {
          "data": {"name": "spectra"},
          "transform": [{"filter": "datum.panel === 'A'"}],
          "mark": {"type": "circle", "size": 175, "color": "#3d3d3d", "opacity": 1},
          "encoding": {
            "x": {"field": "period", "type": "quantitative"},
            "y": {"field": "value", "type": "quantitative"}
          }
        },
        {
          "data": {"name": "guides"},
          "mark": {"type": "rule", "color": "#808080", "strokeWidth": 6, "strokeDash": [0.5, 24.5], "strokeCap": "round"},
          "encoding": {"x": {"field": "period", "type": "quantitative"}}
        }
      ]
    },
    {
      "width": 946,
      "height": 1088,
      "title": {"text": "B"},
      "layer": [
        {
          "data": {"name": "spectra"},
          "transform": [{"filter": "datum.panel === 'B'"}],
          "mark": {"type": "area", "color": "#d3d3d3", "opacity": 1},
          "encoding": {
            "x": {"field": "period", "type": "quantitative", "scale": {"domain": [-0.05, 54.65], "nice": false, "zero": false},
                  "axis": {"values": [6, 12, 18, 24, 30, 36, 42, 48, 54], "format": "d", "title": "Period (hours)"}},
            "y": {"field": "lower", "type": "quantitative", "scale": {"domain": [-0.0064, 0.1548], "nice": false, "zero": false},
                  "axis": {"values": [0, 0.03, 0.06, 0.09, 0.12, 0.15], "format": ".2f", "title": null}},
            "y2": {"field": "upper"}
          }
        },
        {
          "data": {"name": "spectra"},
          "transform": [{"filter": "datum.panel === 'B'"}],
          "mark": {"type": "circle", "size": 175, "color": "#3d3d3d", "opacity": 1},
          "encoding": {
            "x": {"field": "period", "type": "quantitative"},
            "y": {"field": "value", "type": "quantitative"}
          }
        },
        {
          "data": {"name": "guides"},
          "mark": {"type": "rule", "color": "#808080", "strokeWidth": 6, "strokeDash": [0.5, 24.5], "strokeCap": "round"},
          "encoding": {"x": {"field": "period", "type": "quantitative"}}
        }
      ]
    },
    {
      "width": 946,
      "height": 1088,
      "title": {"text": "C"},
      "layer": [
        {
          "data": {"name": "spectra"},
          "transform": [{"filter": "datum.panel === 'C'"}],
          "mark": {"type": "area", "color": "#d3d3d3", "opacity": 1},
          "encoding": {
            "x": {"field": "period", "type": "quantitative", "scale": {"domain": [-0.05, 54.65], "nice": false, "zero": false},
                  "axis": {"values": [6, 12, 18, 24, 30, 36, 42, 48, 54], "format": "d", "title": null}},
            "y": {"field": "lower", "type": "quantitative", "scale": {"domain": [-0.0064, 0.1548], "nice": false, "zero": false},
                  "axis": {"values": [0, 0.01, 0.03, 0.06, 0.09, 0.12, 0.15], "format": ".2f", "title": null}},
            "y2": {"field": "upper"}
          }
        },
        {
          "data": {"name": "spectra"},
          "transform": [{"filter": "datum.panel === 'C'"}],
          "mark": {"type": "circle", "size": 175, "color": "#3d3d3d", "opacity": 1},
          "encoding": {
            "x": {"field": "period", "type": "quantitative"},
            "y": {"field": "value", "type": "quantitative"}
          }
        },
        {
          "data": {"name": "guides"},
          "mark": {"type": "rule", "color": "#808080", "strokeWidth": 6, "strokeDash": [0.5, 24.5], "strokeCap": "round"},
          "encoding": {"x": {"field": "period", "type": "quantitative"}}
        }
      ]
    }
  ],
  "config": {
    "font": "Liberation Sans",
    "view": {"stroke": "black", "strokeWidth": 3},
    "axis": {
      "grid": false,
      "domain": false,
      "tickColor": "black",
      "tickWidth": 3,
      "tickSize": 10,
      "labelFont": "Liberation Sans",
      "labelFontSize": 49,
      "labelColor": "black",
      "labelFlush": false,
      "labelOverlap": false,
      "titleFont": "Liberation Sans",
      "titleFontSize": 57,
      "titleFontWeight": "normal",
      "titleColor": "black"
    },
    "axisX": {"labelPadding": 23, "titlePadding": 40},
    "axisY": {"labelPadding": 14, "titlePadding": 34},
    "title": {
      "font": "Liberation Sans",
      "fontSize": 62,
      "fontWeight": "bold",
      "color": "black",
      "anchor": "start",
      "frame": "bounds",
      "offset": 56
    }
  }
}
